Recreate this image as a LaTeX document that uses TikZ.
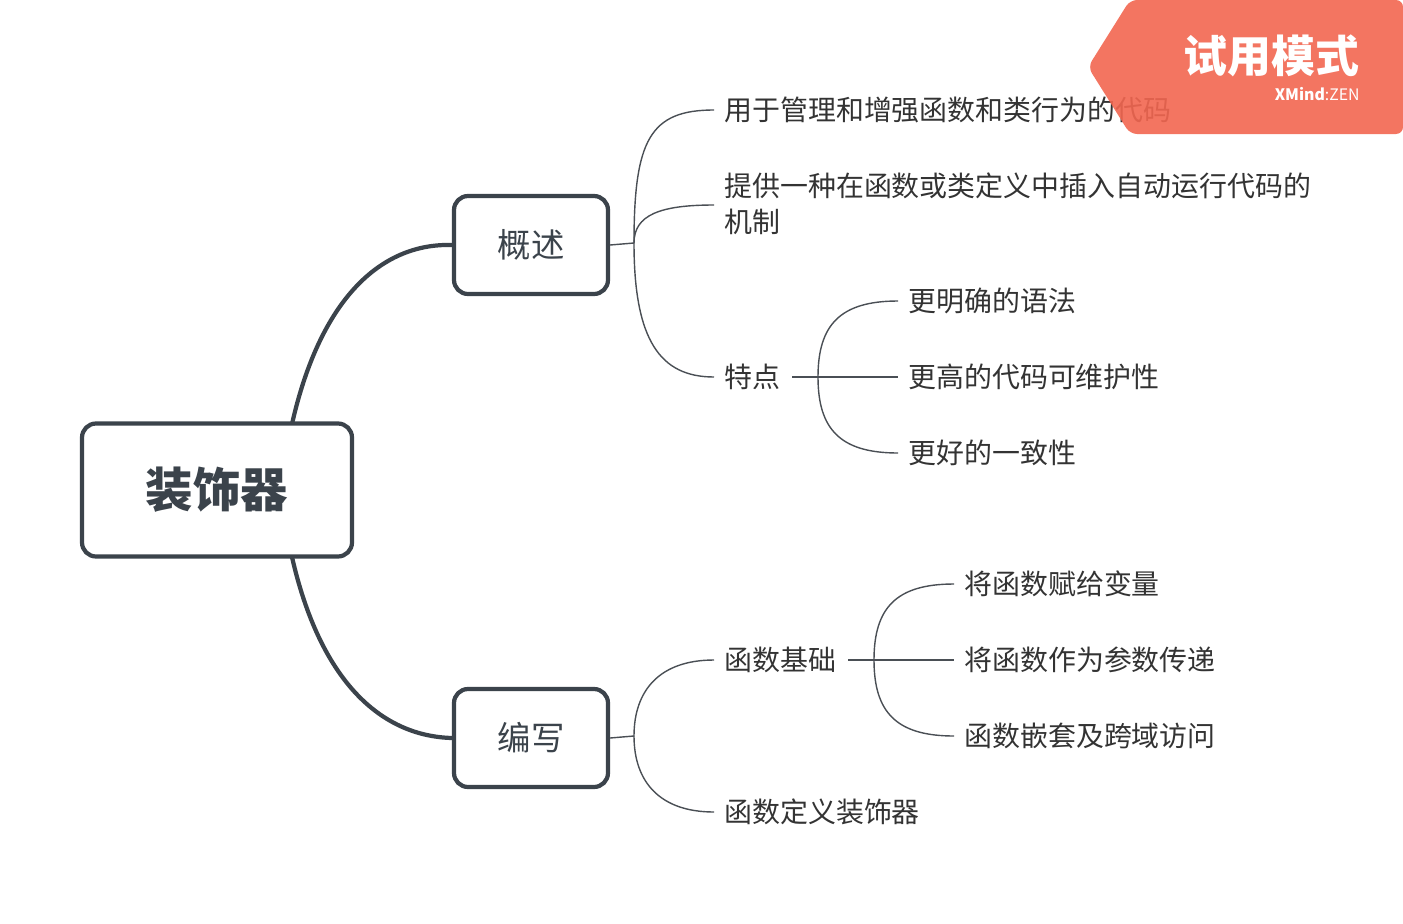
\documentclass[tikz,border=0pt]{standalone}
\usepackage{fontspec}
\newfontfamily\cjk{Noto Sans CJK SC}
\definecolor{dk}{HTML}{3B434B}
\definecolor{ln}{HTML}{4A4F55}
\definecolor{tx}{HTML}{333333}
\definecolor{wm}{HTML}{F26650}
\begin{document}
\begin{tikzpicture}[x=0.02cm,y=-0.02cm,
  box/.style={draw=dk,line width=2.4pt,rounded corners=8pt,fill=white,text=dk,font=\cjk\fontsize{19}{22}\selectfont},
  leaf/.style={anchor=west,inner sep=0pt,text=tx,font=\cjk\fontsize{15.9}{20.5}\selectfont,align=left},
  thin/.style={draw=ln,line width=0.8pt},
  thick/.style={draw=dk,line width=2.4pt}]
\useasboundingbox (0,0) rectangle (1403,923);
% main boxes
\node[box,minimum width=270*0.02cm,minimum height=133*0.02cm,font=\cjk\bfseries\fontsize{27}{30}\selectfont] (root) at (217,490) {装饰器};
\node[box,minimum width=154*0.02cm,minimum height=98*0.02cm] (gs) at (531,245) {概述};
\node[box,minimum width=154*0.02cm,minimum height=98*0.02cm] (bx) at (531,738) {编写};
\coordinate (r1) at (292,424);
\coordinate (r2) at (292,557);
\draw[thick] (r1) .. controls (320,300) and (380,243) .. (gs.west);
\draw[thick] (r2) .. controls (320,680) and (380,736) .. (bx.west);
% 概述 children
\coordinate (g0) at (634,243);
\draw[thin] (gs.east) -- (g0);
\node[leaf] (a1) at (724,110) {用于管理和增强函数和类行为的代码};
\node[leaf,anchor=north west] (a2) at (724,172) {提供一种在函数或类定义中插入自动运行代码的\\机制};
\node[leaf] (a3) at (724,377) {特点};
\coordinate (e1) at (714,110);
\coordinate (e2) at (714,205);
\coordinate (e3) at (714,377);
\draw[thin] (g0) .. controls (634,140) and (650,110) .. (e1);
\draw[thin] (g0) .. controls (634,215) and (660,205) .. (e2);
\draw[thin] (g0) .. controls (634,340) and (660,377) .. (e3);
% 特点 children
\coordinate (t0) at (818,377);
\draw[thin] (792,377) -- (t0);
\node[leaf] (b1) at (908,301) {更明确的语法};
\node[leaf] (b2) at (908,377) {更高的代码可维护性};
\node[leaf] (b3) at (908,453) {更好的一致性};
\draw[thin] (t0) .. controls (818,325) and (840,301) .. (898,301);
\draw[thin] (t0) -- (898,377);
\draw[thin] (t0) .. controls (818,429) and (840,453) .. (898,453);
% 编写 children
\coordinate (w0) at (634,736);
\draw[thin] (bx.east) -- (w0);
\node[leaf] (c1) at (724,660) {函数基础};
\node[leaf] (c2) at (724,812) {函数定义装饰器};
\draw[thin] (w0) .. controls (634,690) and (660,660) .. (714,660);
\draw[thin] (w0) .. controls (634,782) and (660,812) .. (714,812);
\coordinate (f0) at (874,660);
\draw[thin] (848,660) -- (f0);
\node[leaf] (d1) at (964,584) {将函数赋给变量};
\node[leaf] (d2) at (964,660) {将函数作为参数传递};
\node[leaf] (d3) at (964,736) {函数嵌套及跨域访问};
\draw[thin] (f0) .. controls (874,608) and (896,584) .. (954,584);
\draw[thin] (f0) -- (954,660);
\draw[thin] (f0) .. controls (874,712) and (896,736) .. (954,736);
% watermark
\fill[wm,fill opacity=0.9,rounded corners=4pt] (1088,67) -- (1130,0) -- (1403,0) -- (1403,134) -- (1130,134) -- cycle;
\node[anchor=east,text=white,font=\cjk\bfseries\fontsize{25}{28}\selectfont,inner sep=0pt] (wm1) at (1360,56) {试用模式};
\node[anchor=east,text=white,font=\cjk\fontsize{9}{10}\selectfont,inner sep=0pt] (wm2) at (1360,94) {\textbf{XMind}:ZEN};
\end{tikzpicture}
\end{document}
